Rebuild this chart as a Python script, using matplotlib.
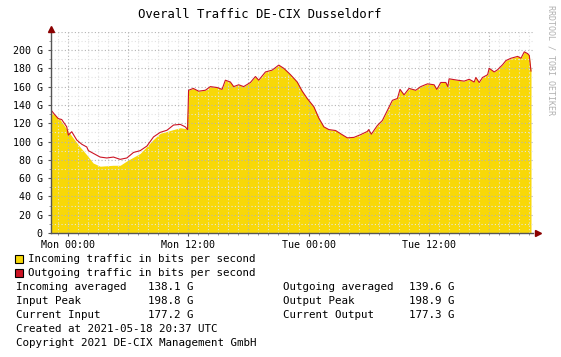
import matplotlib
matplotlib.use("Agg")
import matplotlib.pyplot as plt
from matplotlib.patches import Rectangle
from matplotlib.ticker import MultipleLocator, FixedLocator

# hours relative to Monday 00:00
in_hours = [-1.7, -0.8, -0.1, 0.5, 1.2, 1.9, 2.5, 3.2, 4.5, 5.2, 5.9, 6.5,
            7.2, 7.9, 8.5, 9.2, 9.9, 10.5, 11.2, 11.8]
in_vals = [132, 124, 113, 104, 94, 85, 76.5, 73, 74, 74, 79, 82.7,
           87, 95, 102, 109, 111, 113, 115, 114]

out_hours = [-1.7, -1.3, -0.97, -0.63, -0.13, 0.03, 0.37, 0.87, 1.37, 1.87,
             2.03, 2.53, 3.2, 3.87, 4.53, 5.2, 5.87, 6.53, 7.2, 7.87, 8.53,
             9.2, 9.87, 10.53, 11.2, 11.7, 11.93]
out_vals = [134.4, 129, 125, 124, 116, 107, 110.7, 101.6, 97, 94,
            90, 87, 83, 82, 83, 80.5, 82, 88, 90, 95, 105,
            110, 112.3, 118, 118.7, 116, 113]

# from Monday noon on both series overlap
tail_hours = [12.03, 12.5, 13.03, 13.7, 14.2, 14.87, 15.37, 15.7, 16.2, 16.53,
              17.03, 17.53, 18.2, 18.7, 19.03, 19.7, 20.37, 21.03, 21.53, 22.2,
              22.87, 23.37, 23.87, 24.53, 25.03, 25.53, 26.03, 26.7, 27.2, 27.87,
              28.53, 29.2, 29.87, 30.0, 30.27, 30.87, 31.37, 31.87, 32.37, 32.87,
              33.13, 33.53, 34.03, 34.7, 35.2, 35.87, 36.53, 36.8, 37.2, 37.7,
              37.9, 38.03, 38.87, 39.53, 40.03, 40.53, 40.7, 41.03, 41.37, 41.87,
              42.03, 42.53, 42.87, 43.37, 43.7, 44.2, 44.87, 45.2, 45.53, 45.87,
              46.03, 46.2]
tail_vals = [156, 158, 155, 156, 160, 159, 157, 167, 165, 160,
             162, 160, 164.5, 171, 167, 176, 178, 183.5, 180, 173,
             165, 155, 147, 138, 125.5, 116, 113, 112, 108.5, 104,
             104.5, 107.5, 111, 113, 108, 117.5, 123, 134, 145, 147,
             157, 151, 158, 156, 160, 163, 162, 157, 164.5, 164.5,
             160, 168.5, 167, 166, 168, 165, 170, 164.5, 170, 173,
             180, 176, 178.5, 184, 188.5, 191, 193, 191, 198, 196,
             194, 177]

x_ticks = [0, 12, 24, 36]
x_labels = ["Mon 00:00", "Mon 12:00", "Tue 00:00", "Tue 12:00"]
y_ticks = [0, 20, 40, 60, 80, 100, 120, 140, 160, 180, 200]
y_labels = ["0"] + ["%d G" % v for v in y_ticks[1:]]

legend_rows = [
    ("Incoming averaged", "138.1 G", "Outgoing averaged", "139.6 G"),
    ("Input Peak", "198.8 G", "Output Peak", "198.9 G"),
    ("Current Input", "177.2 G", "Current Output", "177.3 G"),
]

W, H = 561, 357
YELLOW = "#f8d808"
RED = "#cc1424"
MONO = "DejaVu Sans Mono"


def fx(x):
    return x / W


def fy(y):
    return 1 - y / H


def main():
    plt.rcParams["font.family"] = MONO
    fig = plt.figure(figsize=(W / 100, H / 100), dpi=100)
    fig.patch.set_facecolor("white")

    left, right, top, bottom = 51, 533, 31.7, 233
    ax = fig.add_axes([fx(left), fy(bottom), fx(right - left), (bottom - top) / H])

    ax.fill_between(in_hours + tail_hours, in_vals + tail_vals, 0,
                    color=YELLOW, linewidth=0, zorder=1)
    ax.plot(out_hours + tail_hours, out_vals + tail_vals,
            color=RED, linewidth=0.8, zorder=4)

    ax.set_xlim(-1.7, 46.4)
    ax.set_ylim(0, 220)

    ax.xaxis.set_major_locator(FixedLocator(x_ticks))
    ax.xaxis.set_minor_locator(MultipleLocator(1))
    ax.set_xticklabels(x_labels)
    ax.yaxis.set_major_locator(FixedLocator(y_ticks))
    ax.yaxis.set_minor_locator(MultipleLocator(10))
    ax.set_yticklabels(y_labels)

    # grid drawn above the area like rrdtool does
    for h in range(-1, 47):
        dark = h % 6 == 0
        ax.axvline(h, color="#b4b4b4" if dark else "#e2e2e2", linewidth=0.8,
                   linestyle=(0, (1, 2)), zorder=2 if dark else 1.5)
    for v in range(10, 221, 10):
        dark = v % 20 == 0
        ax.axhline(v, color="#b4b4b4" if dark else "#e2e2e2", linewidth=0.8,
                   linestyle=(0, (1, 2)), zorder=2 if dark else 1.5)

    for s in ["top", "right"]:
        ax.spines[s].set_visible(False)
    for s in ["left", "bottom"]:
        ax.spines[s].set_color("#555555")
        ax.spines[s].set_linewidth(1.0)
        ax.spines[s].set_zorder(5)

    ax.tick_params(axis="both", which="major", labelsize=7.2, length=2,
                   width=0.8, color="#555555", pad=3)
    ax.tick_params(axis="both", which="minor", length=1.5, width=0.6,
                   color="#888888")
    ax.tick_params(axis="y", pad=4)

    # axis arrows
    ax.plot([1.01], [0], marker=">", markersize=4, color="#8b0000",
            transform=ax.transAxes, clip_on=False, zorder=6)
    ax.plot([0], [1.015], marker="^", markersize=4, color="#8b0000",
            transform=ax.transAxes, clip_on=False, zorder=6)
    ax.plot([0, 0], [1.0, 1.015], color="#555555", linewidth=1.0,
            transform=ax.transAxes, clip_on=False, zorder=5)

    fig.text(fx(260), fy(14), "Overall Traffic DE-CIX Dusseldorf",
             fontsize=8.8, ha="center", va="center", color="black")
    fig.text(fx(551), fy(60), "RRDTOOL / TOBI OETIKER", fontsize=6,
             rotation=270, ha="center", va="center", color="#b0b0b0")

    # legend
    for y, color, label in [(259.3, YELLOW, "Incoming traffic in bits per second"),
                            (273, RED, "Outgoing traffic in bits per second")]:
        fig.patches.append(Rectangle((fx(14.5), fy(y + 4)), 8 / W, 8 / H,
                                     transform=fig.transFigure, facecolor=color,
                                     edgecolor="black", linewidth=0.8))
        fig.text(fx(28.3), fy(y), label, fontsize=7.8, va="center")

    for i, (l1, v1, l2, v2) in enumerate(legend_rows):
        y = 287.3 + i * 14
        fig.text(fx(15.7), fy(y), l1, fontsize=7.8, va="center")
        fig.text(fx(148.3), fy(y), v1, fontsize=7.8, va="center")
        fig.text(fx(282.7), fy(y), l2, fontsize=7.8, va="center")
        fig.text(fx(409.3), fy(y), v2, fontsize=7.8, va="center")

    fig.text(fx(15.7), fy(329), "Created at 2021-05-18 20:37 UTC",
             fontsize=7.8, va="center")
    fig.text(fx(15.7), fy(343.3), "Copyright 2021 DE-CIX Management GmbH",
             fontsize=7.8, va="center")

    fig.savefig("out.png", dpi=100)


if __name__ == "__main__":
    main()
